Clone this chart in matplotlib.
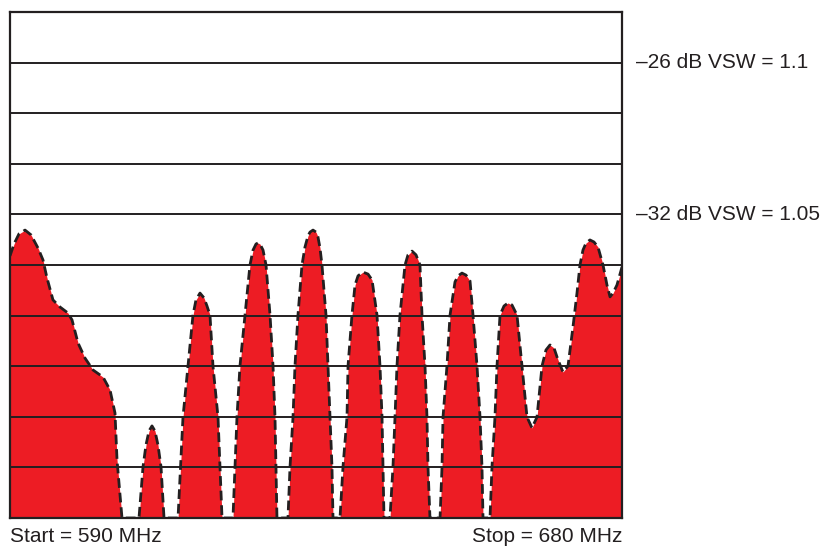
import matplotlib
matplotlib.use('Agg')
import matplotlib.pyplot as plt
import matplotlib.transforms as mtransforms

# Swept return loss trace (frequency in MHz, level in dB)
freq_mhz = [
    590.00, 590.59, 591.32, 592.21, 593.09, 594.12, 594.85, 595.44, 596.32, 597.35,
    598.53, 599.12, 600.00, 601.03, 602.21, 603.68, 604.71, 605.44, 605.74, 606.47,
    608.97, 609.56, 610.00, 610.44, 610.88, 611.32, 611.76, 612.21, 612.65,
    614.71, 615.44, 616.18, 616.91, 617.35, 617.94, 618.53, 618.97, 619.41, 619.85, 620.59, 621.18,
    622.79, 623.38, 623.82, 624.56, 625.29, 625.74, 626.18, 626.47, 626.76, 627.21, 627.65,
    628.24, 628.68, 628.97, 629.26,
    630.88, 631.18, 631.62, 631.91, 632.35, 632.94, 633.38, 633.82, 634.12, 634.56, 635.00,
    635.29, 635.59, 635.88, 636.47, 636.76, 637.06, 637.35, 637.50,
    638.53, 638.97, 639.56, 639.71, 640.29, 640.74, 641.18, 641.91, 642.65, 643.24, 643.97,
    644.41, 644.71, 644.85, 645.00,
    645.88, 646.32, 646.62, 646.91, 647.35, 648.09, 648.53, 649.12, 649.71, 650.29, 650.59,
    651.03, 651.32, 651.47, 651.76,
    653.24, 653.53, 653.68, 654.26, 654.71, 655.44, 655.88, 656.47, 657.06, 657.65, 658.09,
    658.68, 659.12, 659.41, 659.56,
    660.59, 660.88, 661.32, 661.62, 662.06, 662.65, 663.24, 663.82, 664.56, 665.29, 666.03,
    666.76, 667.50, 668.24, 668.82, 669.41, 670.00, 670.59, 671.32, 672.06, 672.79, 673.38,
    673.82, 674.26, 674.71, 675.29, 675.88, 676.47, 677.21, 677.79, 678.24, 678.68, 679.26, 680.00,
]
return_loss_db = [
    -33.64, -33.17, -32.77, -32.62, -32.81, -33.33, -33.80, -34.51, -35.38, -35.66,
    -35.90, -36.17, -37.08, -37.68, -38.15, -38.43, -38.94, -39.85, -41.71, -44.00,
    -44.00, -41.98, -41.11, -40.56, -40.36, -40.56, -41.11, -41.98, -44.00,
    -44.00, -40.01, -37.99, -35.98, -35.38, -35.11, -35.30, -35.62, -35.98, -37.99, -40.01, -44.00,
    -44.00, -40.01, -37.99, -35.98, -34.00, -33.41, -33.17, -33.13, -33.17, -33.41, -34.00,
    -35.98, -37.99, -40.01, -44.00,
    -44.00, -41.98, -40.01, -37.99, -35.98, -34.00, -33.29, -32.85, -32.70, -32.62, -32.70,
    -32.89, -33.33, -34.00, -35.98, -37.99, -40.01, -41.98, -44.00,
    -44.00, -41.98, -40.01, -37.99, -35.98, -34.79, -34.43, -34.28, -34.36, -34.59, -35.98,
    -37.99, -40.01, -41.98, -44.00,
    -44.00, -41.98, -40.01, -37.99, -35.98, -34.00, -33.60, -33.45, -33.60, -34.00, -35.98,
    -37.99, -40.01, -41.98, -44.00,
    -44.00, -41.98, -40.01, -37.99, -35.98, -34.67, -34.43, -34.32, -34.40, -34.63, -35.98,
    -37.99, -40.01, -41.98, -44.00,
    -44.00, -41.98, -40.01, -37.99, -35.98, -35.62, -35.50, -35.58, -35.98, -37.99, -40.01,
    -40.44, -40.01, -37.99, -37.36, -37.16, -37.28, -37.75, -38.23, -37.99, -36.45, -35.11,
    -34.00, -33.41, -33.13, -33.01, -33.09, -33.29, -34.00, -34.79, -35.26, -35.11, -34.79, -34.08,
]

# Display range and reference lines
f_start, f_stop = 590, 680
db_bottom, db_top = -44, -24
grid_levels = [-42, -40, -38, -36, -34, -32, -30, -28, -26]
ref_levels = [-26, -32]
ref_labels = ['\u201326 dB VSW = 1.1', '\u201332 dB VSW = 1.05']

ink = '#231f20'
red = '#ed1c24'

plt.rcParams['font.family'] = ['Liberation Sans', 'DejaVu Sans']
plt.rcParams['lines.scale_dashes'] = False

fig = plt.figure(figsize=(8.26, 5.48), dpi=100)
ax = fig.add_axes([10 / 826, 30 / 548, 612 / 826, 506 / 548])

# Red filled trace with dashed outline
ax.fill_between(freq_mhz, return_loss_db, db_bottom, color=red, linewidth=0, zorder=1)
for lvl in grid_levels:
    ax.axhline(lvl, color=ink, linewidth=1.4, zorder=2)
ax.plot(freq_mhz, return_loss_db, color=ink, linewidth=2.0, dashes=(7, 3.5),
        solid_joinstyle='round', zorder=3)

ax.set_xlim(f_start, f_stop)
ax.set_ylim(db_bottom, db_top)
ax.set_xticks([])
ax.set_yticks([])
for sp in ax.spines.values():
    sp.set_color(ink)
    sp.set_linewidth(1.6)
    sp.set_zorder(4)

# Reference labels on the right
trans = mtransforms.blended_transform_factory(ax.transAxes, ax.transData)
for lvl, lab in zip(ref_levels, ref_labels):
    ax.text(1 + 14 / 612, lvl, lab, transform=trans, ha='left', va='center',
            fontsize=15, color=ink)

# Start / stop labels
ax.text(0, -19 / 506, f'Start = {f_start} MHz', transform=ax.transAxes,
        ha='left', va='center', fontsize=15, color=ink)
ax.text(1, -19 / 506, f'Stop = {f_stop} MHz', transform=ax.transAxes,
        ha='right', va='center', fontsize=15, color=ink)

fig.savefig('out.png', dpi=100)
plt.close(fig)
